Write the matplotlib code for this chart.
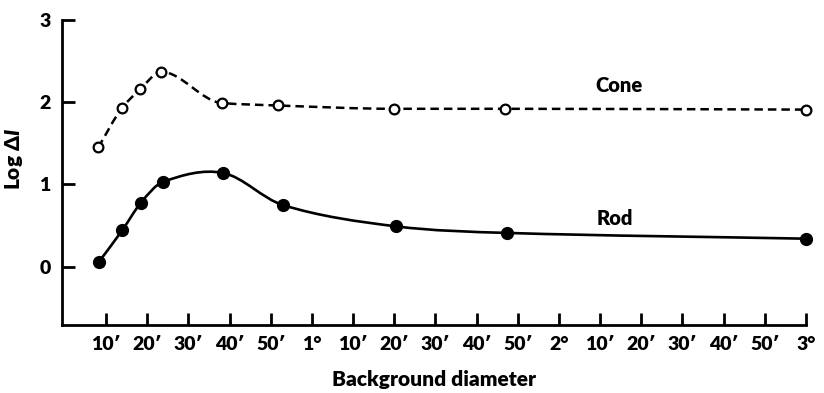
import numpy as np
import matplotlib
matplotlib.use("Agg")
import matplotlib.pyplot as plt
from matplotlib.path import Path
from matplotlib.patches import PathPatch

plt.rcParams['font.family'] = ['Lato', 'DejaVu Sans']
plt.rcParams['font.weight'] = 'heavy'
plt.rcParams['mathtext.fontset'] = 'custom'
plt.rcParams['mathtext.rm'] = 'Lato:heavy'
plt.rcParams['mathtext.it'] = 'Lato:italic:heavy'
plt.rcParams['mathtext.bf'] = 'Lato:heavy'

# Data (x in minutes of arc)
cone_x = [8.1, 13.9, 18.3, 23.4, 38.1, 51.8, 80.0, 107.0, 180.0]
cone_y = [1.45, 1.93, 2.16, 2.37, 1.99, 1.96, 1.92, 1.92, 1.91]
rod_x = [8.3, 13.9, 18.5, 23.8, 38.4, 52.9, 80.4, 107.4, 180.0]
rod_y = [0.06, 0.44, 0.78, 1.03, 1.14, 0.75, 0.49, 0.41, 0.34]

xtick_pos = [10, 20, 30, 40, 50, 60, 70, 80, 90, 100, 110, 120, 130, 140, 150, 160, 170, 180]
xtick_labels = ["10′", "20′", "30′", "40′", "50′", "1°", "10′", "20′", "30′", "40′",
                "50′", "2°", "10′", "20′", "30′", "40′", "50′", "3°"]
ytick_pos = [0, 1, 2, 3]


def catmull_slopes(x, y):
    x = np.asarray(x, float); y = np.asarray(y, float)
    n = len(x); m = np.zeros(n)
    for i in range(1, n - 1):
        m[i] = (y[i + 1] - y[i - 1]) / (x[i + 1] - x[i - 1])
    m[0] = (y[1] - y[0]) / (x[1] - x[0])
    m[-1] = (y[-1] - y[-2]) / (x[-1] - x[-2])
    return m


def pchip_slopes(x, y):
    x = np.asarray(x, float); y = np.asarray(y, float)
    n = len(x); h = np.diff(x); d = np.diff(y) / h
    m = np.zeros(n)
    for i in range(1, n - 1):
        if d[i - 1] * d[i] <= 0:
            m[i] = 0
        else:
            w1 = 2 * h[i] + h[i - 1]; w2 = h[i] + 2 * h[i - 1]
            m[i] = (w1 + w2) / (w1 / d[i - 1] + w2 / d[i])
    m[0] = d[0]; m[-1] = d[-1]
    return m


def bezier_path(x, y, m):
    verts = [(x[0], y[0])]; codes = [Path.MOVETO]
    for i in range(len(x) - 1):
        h = x[i + 1] - x[i]
        verts += [(x[i] + h / 3, y[i] + m[i] * h / 3),
                  (x[i + 1] - h / 3, y[i + 1] - m[i + 1] * h / 3),
                  (x[i + 1], y[i + 1])]
        codes += [Path.CURVE4] * 3
    return Path(verts, codes)


fig = plt.figure(figsize=(8.24, 3.93), dpi=100)
ax = fig.add_axes([62 / 824, 68 / 393, (806 - 62) / 824, (325 - 20) / 393])

cone_path = bezier_path(cone_x, cone_y, pchip_slopes(cone_x, cone_y))
rod_path = bezier_path(rod_x, rod_y, catmull_slopes(rod_x, rod_y))
ax.add_patch(PathPatch(cone_path, fill=False, lw=1.8, ls=(0, (3.4, 2.0)), ec='black',
                       capstyle='butt', clip_on=False))
ax.add_patch(PathPatch(rod_path, fill=False, lw=1.9, ec='black', clip_on=False))
ax.plot(cone_x, cone_y, 'o', ms=7, mfc='white', mec='black', mew=1.6, clip_on=False, zorder=3)
ax.plot(rod_x, rod_y, 'o', ms=8.5, mfc='black', mec='black', clip_on=False, zorder=3)

ax.text(134.5, 2.2, 'Cone', ha='center', va='center', fontsize=14.5, fontweight='heavy')
ax.text(133.5, 0.58, 'Rod', ha='center', va='center', fontsize=14.5, fontweight='heavy')

ax.set_xlim(-0.7, 180)
ax.set_ylim(-0.71, 3.0)
for s in ['top', 'right']:
    ax.spines[s].set_visible(False)
for s in ['left', 'bottom']:
    ax.spines[s].set_linewidth(2.0)
ax.set_xticks(xtick_pos)
ax.set_xticklabels(xtick_labels)
ax.set_yticks(ytick_pos)
ax.tick_params(axis='both', direction='in', length=9, width=2.0, labelsize=14)
ax.tick_params(axis='x', pad=8)
ax.tick_params(axis='y', pad=8)
for lab in ax.get_xticklabels() + ax.get_yticklabels():
    lab.set_fontweight('heavy')

ax.set_xlabel('Background diameter', fontsize=15, fontweight='heavy', labelpad=12)
ax.set_ylabel(r'Log $\mathrm{\Delta}\mathit{I}$', fontsize=15, fontweight='heavy',
              va='center')
ax.yaxis.set_label_coords(-0.064, 0.545)

fig.savefig('out.png', dpi=100)
